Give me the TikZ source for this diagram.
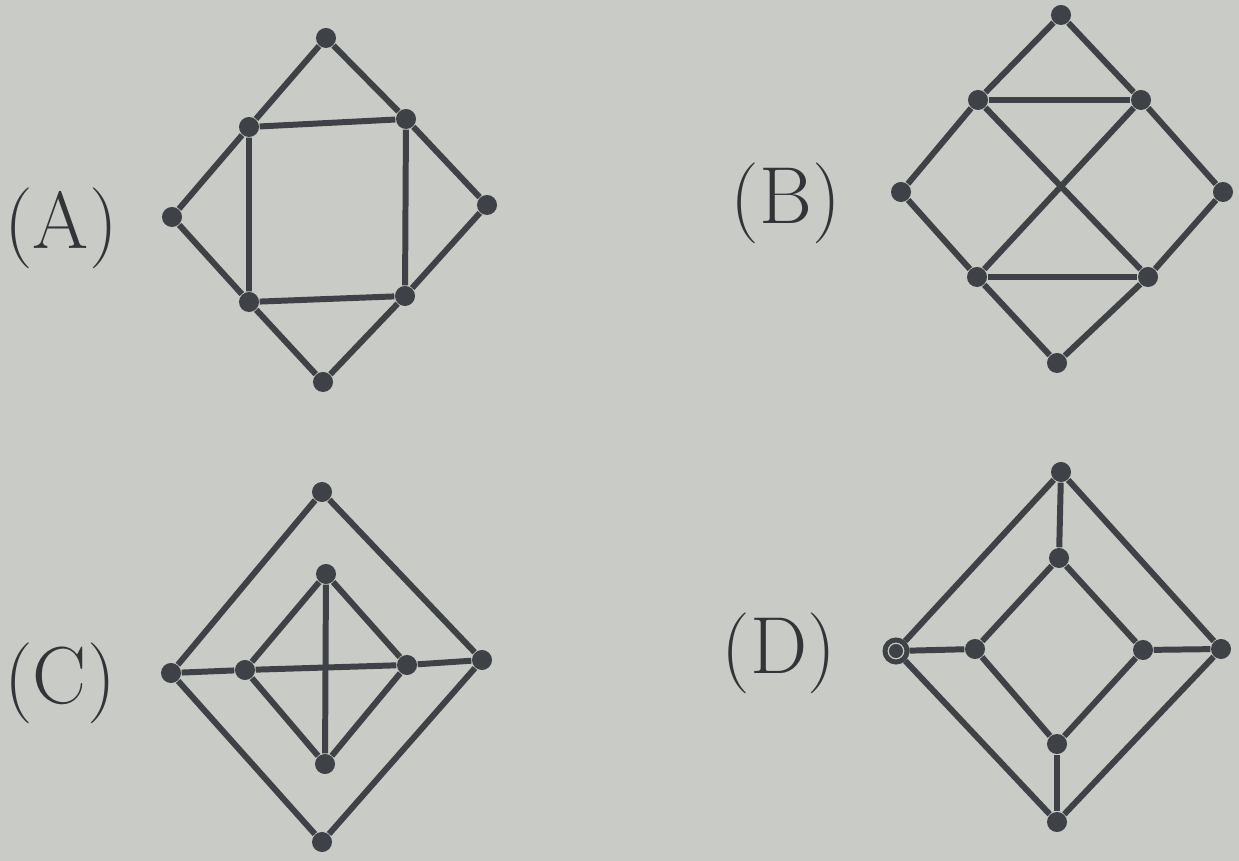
\documentclass[tikz,border=0pt]{standalone}
\usepackage{xcolor}
\definecolor{paper}{RGB}{201,203,198}
\definecolor{ink}{RGB}{62,66,70}
\tikzset{
  vert/.style={circle, fill=ink, inner sep=0pt, minimum size=0.2cm},
  openvert/.style={circle, draw=ink, fill=paper, line width=1.4pt, inner sep=0pt, minimum size=0.22cm},
  edge/.style={ink, line width=1.7pt},
  lbl/.style={font=\fontsize{23}{26}\selectfont, text=ink!80!black}
}
\begin{document}
\begin{tikzpicture}[x=0.01cm, y=-0.01cm]
  %
  % Background
  \fill[paper] (0,0) rectangle (1239,861);
  \useasboundingbox (0,0) rectangle (1239,861);
  %
  % Graph (A): outer diamond with inner square
  \node[vert] (at) at (326,38) {};
  \node[vert] (aul) at (249,127) {};
  \node[vert] (aur) at (406,119) {};
  \node[vert] (al) at (172,217) {};
  \node[vert] (ar) at (487,205) {};
  \node[vert] (all) at (249,302) {};
  \node[vert] (alr) at (405,296) {};
  \node[vert] (ab) at (323,382) {};
  \draw[edge] (at) -- (aul) -- (al) -- (all) -- (ab) -- (alr) -- (ar) -- (aur) -- (at);
  \draw[edge] (aul) -- (aur) -- (alr) -- (all) -- (aul);
  \node[lbl] (labA) at (61,228) {(A)};
  %
  % Graph (B): outer diamond with two bars and a cross
  \node[vert] (bt) at (1061,15) {};
  \node[vert] (bul) at (978,100) {};
  \node[vert] (bur) at (1141,100) {};
  \node[vert] (bl) at (901,192) {};
  \node[vert] (br) at (1223,192) {};
  \node[vert] (bll) at (977,277) {};
  \node[vert] (blr) at (1148,277) {};
  \node[vert] (bb) at (1057,363) {};
  \draw[edge] (bt) -- (bul) -- (bl) -- (bll) -- (bb) -- (blr) -- (br) -- (bur) -- (bt);
  \draw[edge] (bul) -- (bur);
  \draw[edge] (bll) -- (blr);
  \draw[edge] (bul) -- (blr);
  \draw[edge] (bur) -- (bll);
  \node[lbl] (labB) at (786,203) {(B)};
  %
  % Graph (C): nested diamonds joined by one bar
  \node[vert] (ct) at (322,492) {};
  \node[vert] (cl) at (171,673) {};
  \node[vert] (cr) at (482,660) {};
  \node[vert] (cb) at (322,842) {};
  \node[vert] (cit) at (326,574) {};
  \node[vert] (cil) at (245,670) {};
  \node[vert] (cir) at (407,665) {};
  \node[vert] (cib) at (325,764) {};
  \draw[edge] (ct) -- (cl) -- (cb) -- (cr) -- (ct);
  \draw[edge] (cit) -- (cil) -- (cib) -- (cir) -- (cit);
  \draw[edge] (cl) -- (cil) -- (cir) -- (cr);
  \draw[edge] (cit) -- (cib);
  \node[lbl] (labC) at (60,683) {(C)};
  %
  % Graph (D): nested diamonds joined by four spokes
  \node[vert] (dt) at (1061,472) {};
  \node[openvert] (dl) at (896,651) {};
  \node[vert] (dr) at (1221,649) {};
  \node[vert] (db) at (1057,822) {};
  \node[vert] (dit) at (1059,558) {};
  \node[vert] (dil) at (975,649) {};
  \node[vert] (dir) at (1143,650) {};
  \node[vert] (dib) at (1057,744) {};
  \draw[edge] (dt) -- (dl) -- (db) -- (dr) -- (dt);
  \draw[edge] (dit) -- (dil) -- (dib) -- (dir) -- (dit);
  \draw[edge] (dt) -- (dit);
  \draw[edge] (dl) -- (dil);
  \draw[edge] (dr) -- (dir);
  \draw[edge] (db) -- (dib);
  \fill[ink] (dl.center) circle (2pt);
  \node[lbl] (labD) at (779,653) {(D)};
\end{tikzpicture}
\end{document}
